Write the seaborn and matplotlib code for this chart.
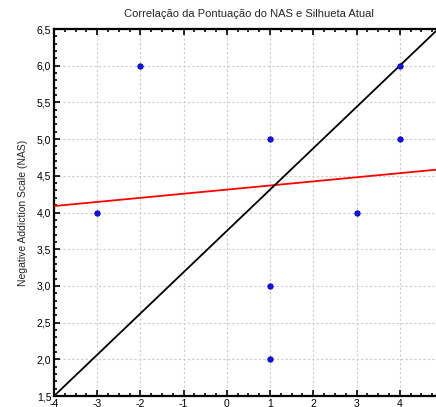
import numpy as np
import pandas as pd
import matplotlib
matplotlib.use("Agg")
import matplotlib.pyplot as plt
import seaborn as sns
from matplotlib import ticker

# data
silhueta = [-3, -2, 1, 1, 1, 3, 4, 4]
nas = [4.0, 6.0, 5.0, 3.0, 2.0, 4.0, 6.0, 5.0]

# fitted line (red) and reference line (black): intercept, slope
red_line = (4.312, 0.056)
black_line = (3.75, 0.5625)

x_ticks = [-4, -3, -2, -1, 0, 1, 2, 3, 4]
y_ticks = [1.5, 2.0, 2.5, 3.0, 3.5, 4.0, 4.5, 5.0, 5.5, 6.0, 6.5]

df = pd.DataFrame({"Silhueta": silhueta, "NAS": nas})

sns.set_style("ticks")
plt.rcParams['font.family'] = ['Liberation Sans', 'DejaVu Sans']

fig = plt.figure(figsize=(4.36, 4.07), dpi=100)
ax = fig.add_axes([0.1239, 0.027, 0.892, 0.9017])

ax.grid(True, which="major", color="#cccccc", linestyle=(0, (2, 2)), linewidth=0.8)
ax.set_axisbelow(True)

ax.axline((0, red_line[0]), slope=red_line[1], color="red", linewidth=1.3, zorder=3)
ax.axline((0, black_line[0]), slope=black_line[1], color="black", linewidth=1.3, zorder=3)

sns.scatterplot(data=df, x="Silhueta", y="NAS", ax=ax, color="#1010ff",
                edgecolor="#0000b0", linewidth=0.6, s=15, zorder=4)

ax.set_xlim(-4, 5)
ax.set_ylim(1.5, 6.5)
ax.set_xticks(x_ticks)
ax.set_yticks(y_ticks)
ax.xaxis.set_minor_locator(ticker.AutoMinorLocator(4))
ax.yaxis.set_minor_locator(ticker.AutoMinorLocator(5))
ax.yaxis.set_major_formatter(ticker.FuncFormatter(lambda v, p: f"{v:.1f}".replace(".", ",")))
ax.xaxis.set_major_formatter(ticker.FuncFormatter(lambda v, p: f"{v:g}"))

ax.tick_params(which="both", direction="in", top=True, right=True, width=1.2,
               labelsize=7.5, colors="black", pad=2)
ax.tick_params(which="major", length=4)
ax.tick_params(which="minor", length=2.5)

for s in ax.spines.values():
    s.set_linewidth(1.6)
    s.set_color("black")

ax.set_xlabel("")
ax.set_ylabel("Negative Addiction Scale (NAS)", fontsize=7.5, labelpad=6)
ax.set_title("Correlação da Pontuação do NAS e Silhueta Atual", fontsize=8, pad=9)

plt.savefig("out.png", dpi=100)
